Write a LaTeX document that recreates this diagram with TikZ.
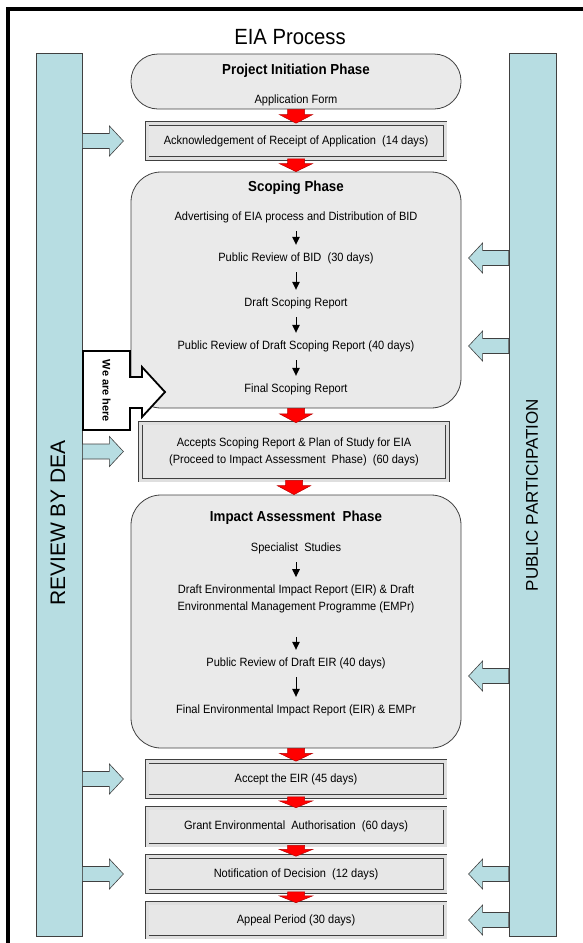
\documentclass[tikz,border=0pt]{standalone}
\usepackage{fontspec}
\setmainfont[FakeStretch=0.92]{Liberation Sans}
\newfontfamily\barfont{Liberation Sans}
\usetikzlibrary{arrows.meta,calc}
\definecolor{barblue}{RGB}{183,221,226}
\definecolor{phasegray}{RGB}{234,234,234}
\definecolor{boxgray}{RGB}{231,231,231}
\definecolor{edgegray}{RGB}{64,64,64}
\definecolor{flowred}{RGB}{255,0,0}
\definecolor{flowdark}{RGB}{185,0,0}
\newcommand{\bodyfont}{\fontsize{12}{17}\selectfont}
\newcommand{\redflow}[2]{%
  \coordinate (rf-a) at (#1.south);
  \coordinate (rf-b) at (rf-a |- #2.north);
  \coordinate (rf-m) at ($(rf-a)!0.38!(rf-b)$);
  \filldraw[flowarrow] ($(rf-a)+(-8.5,0)$) -- ($(rf-m)+(-8.5,0)$) -- ($(rf-m)+(-16.5,0)$) -- (rf-b)
    -- ($(rf-m)+(16.5,0)$) -- ($(rf-m)+(8.5,0)$) -- ($(rf-a)+(8.5,0)$) -- cycle;}
\newcommand{\deaarrow}[1]{%
  \filldraw[sidearrow] (dea.east |- #1) ++(0,-7.5) -- ++(27,0) -- ++(0,-7.5) -- ++(14,15)
    -- ++(-14,15) -- ++(0,-7.5) -- ++(-27,0) -- cycle;}
\newcommand{\pparrow}[1]{%
  \filldraw[sidearrow] (pp.west |- #1) ++(0,-7.5) -- ++(-26,0) -- ++(0,-7.5) -- ++(-14,15)
    -- ++(14,15) -- ++(0,-7.5) -- ++(26,0) -- cycle;}

\begin{document}
\begin{tikzpicture}[x=1pt, y=-1pt,
    phase/.style={draw=edgegray, fill=phasegray, line width=0.8pt, minimum width=330pt, inner sep=0pt},
    stage/.style={draw=edgegray, fill=boxgray, line width=0.6pt, double=gray!25, double distance=3pt, minimum width=298pt, minimum height=35pt, align=center, font=\bodyfont},
    txt/.style={font=\bodyfont, text height=9pt, text depth=3pt, inner sep=2pt},
    head/.style={font=\bfseries\fontsize{14.5}{17}\selectfont, inner sep=2pt},
    bar/.style={draw=edgegray, fill=barblue, line width=0.8pt, inner sep=0pt},
    sidearrow/.style={draw=edgegray, fill=barblue, line width=0.6pt, line join=miter},
    flowarrow/.style={draw=flowdark, fill=flowred, line width=0.5pt},
    stepar/.style={-{Triangle[width=7.5pt,length=8pt]}, line width=1pt, shorten <=6pt, shorten >=5pt}
]
\useasboundingbox (0,0) rectangle (583,943);
\draw[line width=4pt] (8,9) rectangle (620,980);
\node (title) at (290,37) {\fontsize{22}{26}\selectfont EIA Process};

\node[bar, minimum width=46pt, minimum height=883pt] (dea) at (59,494.5) {};
\node[bar, minimum width=47pt, minimum height=883pt] (pp) at (532.5,494.5) {};
\node[rotate=90, font=\barfont\fontsize{21}{24}\selectfont] (deatext) at (58,523) {REVIEW BY DEA};
\node[rotate=90, font=\barfont\fontsize{17}{20}\selectfont] (pptext) at (532,495) {PUBLIC PARTICIPATION};

\node[phase, rounded corners=27pt, minimum height=55pt] (proj) at (296,81.5) {};
\node[head] (projhead) at (296,71) {Project Initiation Phase};
\node[txt] (appform) at (296,100) {Application Form};

\node[stage] (ack) at (296,141) {Acknowledgement of Receipt of Application\ \ (14 days)};

\node[phase, rounded corners=30pt, minimum height=236pt] (scop) at (296,290) {};
\node[head] (scophead) at (296,188) {Scoping Phase};
\node[txt] (advert) at (296,217) {Advertising of EIA process and Distribution of BID};
\node[txt] (bidrev) at (296,258) {Public Review of BID\ \ (30 days)};
\node[txt] (dsr) at (296,303) {Draft Scoping Report};
\node[txt] (dsrrev) at (296,346) {Public Review of Draft Scoping Report (40 days)};
\node[txt] (fsr) at (296,389) {Final Scoping Report};

\node[stage, minimum width=307pt, minimum height=57pt] (accept) at (294,451.5) {Accepts Scoping Report \& Plan of Study for EIA\\(Proceed to Impact Assessment\ \ Phase)\ \ (60 days)};

\node[phase, rounded corners=30pt, minimum height=253pt] (imp) at (296,621.5) {};
\node[head] (imphead) at (296,518) {Impact Assessment\ \ Phase};
\node[txt] (spec) at (296,548) {Specialist\ \ Studies};
\node[font=\bodyfont, align=center, inner sep=2pt] (deir) at (296,598.5) {Draft Environmental Impact Report (EIR) \& Draft\\Environmental Management Programme (EMPr)};
\node[txt] (eirrev) at (296,663) {Public Review of Draft EIR (40 days)};
\node[txt] (feir) at (296,710) {Final Environmental Impact Report (EIR) \& EMPr};
\coordinate (eirpp) at ($(eirrev)+(0,13)$);

\node[stage] (eir) at (296,779) {Accept the EIR (45 days)};
\node[stage, minimum height=37pt] (grant) at (296,826.5) {Grant Environmental\ \ Authorisation\ \ (60 days)};
\node[stage] (notice) at (296,874) {Notification of Decision\ \ (12 days)};
\node[stage, minimum height=34pt] (appeal) at (296,920) {Appeal Period (30 days)};

\deaarrow{ack}
\deaarrow{accept}
\deaarrow{eir}
\deaarrow{notice}
\pparrow{bidrev}
\pparrow{dsrrev}
\pparrow{eirpp}
\pparrow{notice}
\pparrow{appeal}

\draw[stepar] (advert) -- (bidrev);
\draw[stepar] (bidrev) -- (dsr);
\draw[stepar] (dsr) -- (dsrrev);
\draw[stepar] (dsrrev) -- (fsr);
\draw[stepar] (spec) -- (deir);
\draw[stepar, shorten <=22pt] (deir) -- (eirrev);
\draw[stepar] (eirrev) -- (feir);

\redflow{proj}{ack}
\redflow{ack}{scop}
\redflow{scop}{accept}
\redflow{accept}{imp}
\redflow{imp}{eir}
\redflow{eir}{grant}
\redflow{grant}{notice}
\redflow{notice}{appeal}

\draw[line width=1.8pt, fill=white, line join=miter] (83,351) -- (130,351) -- (130,377) -- (142,377) -- (142,367)
  -- (165,392) -- (142,417) -- (142,408) -- (130,408) -- (130,430) -- (83,430) -- cycle;
\node[rotate=-90, font=\barfont\bfseries\fontsize{11}{13}\selectfont] (here) at (106.5,391) {We are here};
\end{tikzpicture}
\end{document}
